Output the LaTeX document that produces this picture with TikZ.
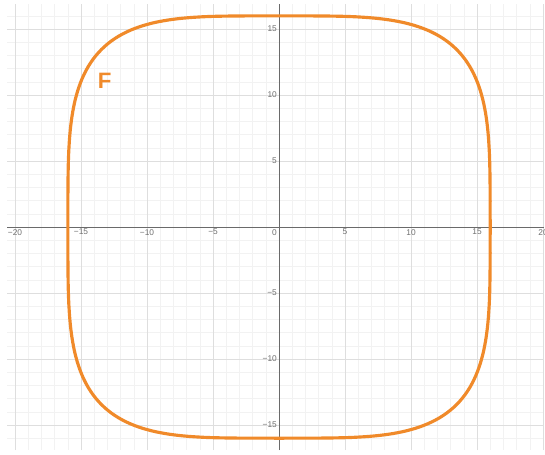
\documentclass[tikz,border=0pt]{standalone}
\usepackage{fontspec}
\setsansfont{Liberation Sans}
\usetikzlibrary{positioning}

\definecolor{curveorange}{HTML}{F08A2A}
\definecolor{majorgrid}{HTML}{DEDEDE}
\definecolor{minorgrid}{HTML}{F2F2F2}
\definecolor{axisgray}{HTML}{6A6A6A}
\definecolor{ticktext}{HTML}{707070}

\begin{document}
\begin{tikzpicture}[
    x=2.5mm, y=2.5mm,
    font=\sffamily,
    minorline/.style={draw=minorgrid, line width=0.3pt},
    majorline/.style={draw=majorgrid, line width=0.4pt},
    axisline/.style={draw=axisgray, line width=0.5pt},
    ticklab/.style={font=\sffamily\fontsize{4.5}{5}\selectfont, text=ticktext, inner sep=1pt},
    curve/.style={draw=curveorange, line width=1.7pt},
    curvelabel/.style={font=\sffamily\bfseries\fontsize{12}{13}\selectfont, text=curveorange}
]
\useasboundingbox (-21.14,-17.2) rectangle (20.15,17.2);

% --------------------------------------------------------------------------
% Grid: minor every unit, major every five.
% --------------------------------------------------------------------------
\draw[minorline] (-20.6,-16.9) grid[step=1] (20.1,16.9);
\draw[majorline] (-20.6,-16.9) grid[step=5] (20.1,16.9);

% Axes.
\coordinate (xmin) at (-20.6,0);
\coordinate (xmax) at (20.1,0);
\coordinate (ymin) at (0,-16.9);
\coordinate (ymax) at (0,16.9);
\draw[axisline] (xmin) -- (xmax);
\draw[axisline] (ymin) -- (ymax);

% Tick labels.
\node[ticklab, anchor=north east] (origin) at (0,0) {0};
\foreach \t/\lab in {-20/−20, -15/−15, -10/−10, -5/−5, 5/5, 10/10, 15/15, 20/20} {
    \node[ticklab, anchor=north] (xt\t) at (\t,0) {\lab};
}
\foreach \t/\lab in {-15/−15, -10/−10, -5/−5, 5/5, 10/10, 15/15} {
    \node[ticklab, anchor=east] (yt\t) at (0,\t) {\lab};
}

% Curve F: |x|^4 + |y|^4 = 16^4.
\draw[curve] plot[domain=0:360, samples=361]
    (\x:{16/((abs(cos(\x)))^4+(abs(sin(\x)))^4)^0.25}) -- cycle;
\node[curvelabel] (flabel) at (-13.2,11.1) {F};

\end{tikzpicture}
\end{document}
